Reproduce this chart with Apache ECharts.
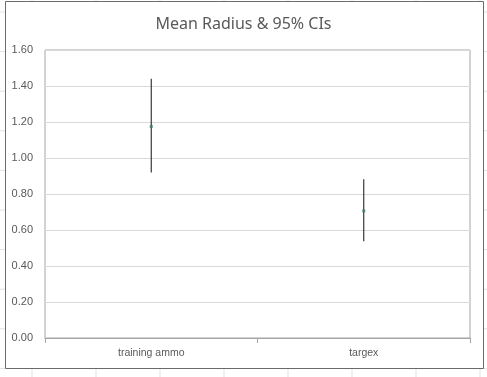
<!DOCTYPE html>
<html>
<head>
    <meta charset="utf-8">
    <title>Mean Radius & 95% CIs</title>
    <script src="https://cdn.jsdelivr.net/npm/echarts@6/dist/echarts.min.js"></script>
    <style>
        html, body { margin: 0; padding: 0; background: #fff; }
    </style>
</head>
<body>
    <div id="main" style="width: 487px;height:377px;"></div>
    <script type="text/javascript">
    // data
    var categories = ['training ammo', 'targex'];
    var means = [1.175, 0.706];
    var lower = [0.92, 0.537];
    var upper = [1.44, 0.882];
    var yTicks = { min: 0, max: 1.6, interval: 0.2 };

    var myChart = echarts.init(document.getElementById('main'));

    // spreadsheet cells behind the chart
    var bg = [];
    for (var x = 32; x < 487; x += 64) {
        bg.push({ type: 'line', z: -20, shape: { x1: x, y1: 0, x2: x, y2: 377 }, style: { stroke: '#e1e1e1', lineWidth: 1 } });
    }
    for (var y = 12; y < 377; y += 39.6) {
        bg.push({ type: 'line', z: -20, shape: { x1: 0, y1: y, x2: 487, y2: y }, style: { stroke: '#e1e1e1', lineWidth: 1 } });
    }
    bg.push({
        type: 'rect', z: -10,
        shape: { x: 5.5, y: 1.5, width: 478, height: 367 },
        style: { fill: '#fff', stroke: '#6b6b6b', lineWidth: 1 }
    });

    var option = {
        animation: false,
        title: {
            text: 'Mean Radius & 95% CIs',
            left: 'center',
            top: 11,
            textStyle: { fontFamily: 'Noto Sans', fontSize: 16, fontWeight: 'normal', color: '#595959' }
        },
        graphic: bg,
        grid: {
            left: 45, right: 17, top: 50, bottom: 39,
            show: true, borderColor: '#a6a6a6', borderWidth: 1, backgroundColor: 'transparent'
        },
        xAxis: {
            type: 'category',
            data: categories,
            boundaryGap: true,
            axisLine: { lineStyle: { color: '#a6a6a6' } },
            axisTick: { show: true, length: 5, lineStyle: { color: '#a6a6a6' } },
            axisLabel: { color: '#595959', fontSize: 10.5, fontFamily: 'Liberation Sans', margin: 10 }
        },
        yAxis: {
            type: 'value',
            min: yTicks.min,
            max: yTicks.max,
            interval: yTicks.interval,
            axisLine: { show: false },
            axisTick: { show: false },
            axisLabel: {
                color: '#595959', fontSize: 11, fontFamily: 'Liberation Sans', margin: 12,
                formatter: function (v) { return v.toFixed(2); }
            },
            splitLine: { lineStyle: { color: '#d9d9d9' } }
        },
        series: [{
            type: 'custom',
            name: 'CI',
            data: categories.map(function (c, i) { return [i, lower[i], upper[i]]; }),
            renderItem: function (params, api) {
                var lo = api.coord([api.value(0), api.value(1)]);
                var hi = api.coord([api.value(0), api.value(2)]);
                return {
                    type: 'line',
                    shape: { x1: lo[0], y1: lo[1], x2: hi[0], y2: hi[1] },
                    style: { stroke: '#262626', lineWidth: 1.1 }
                };
            },
            z: 3
        }, {
            type: 'scatter',
            name: 'Mean',
            data: categories.map(function (c, i) { return [i, means[i]]; }),
            symbol: 'rect',
            symbolSize: 3,
            itemStyle: { color: '#3d7a68' },
            z: 4
        }]
    };

    myChart.setOption(option);
    </script>
</body>
</html>
